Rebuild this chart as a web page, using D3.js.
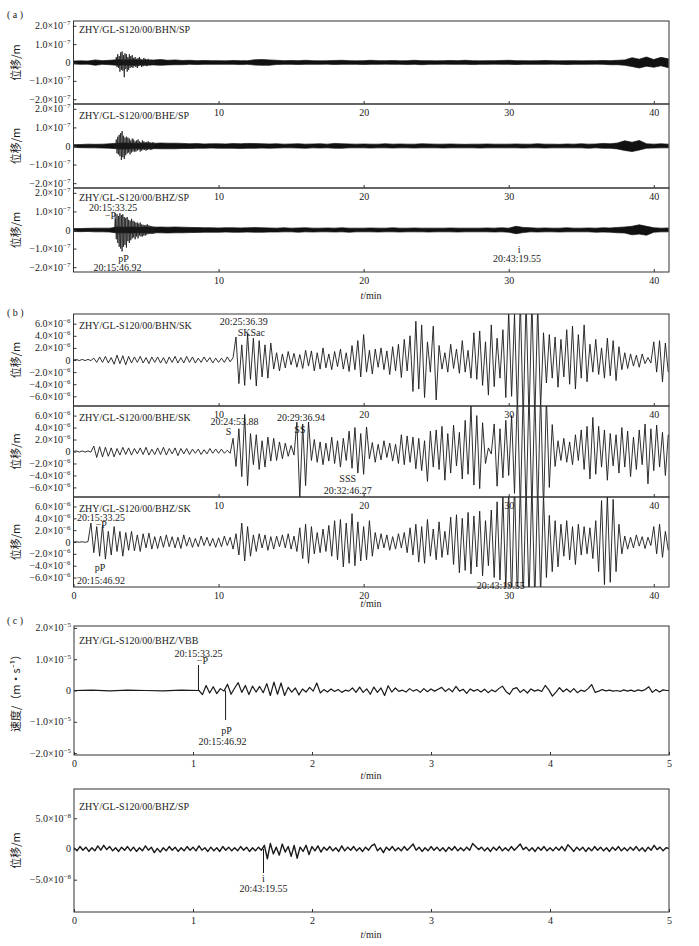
<!DOCTYPE html>
<html>
<head>
<meta charset="utf-8">
<script src="https://cdn.jsdelivr.net/npm/d3@7/dist/d3.min.js"></script>
<style>
  body { margin: 0; background: #fff; }
  text { font-family: "Liberation Serif", "DejaVu Serif", serif; fill: #1a1a1a; }
  .cjk { font-family: "Noto Sans CJK SC", sans-serif; }
</style>
</head>
<body>
<svg id="fig" width="699" height="946"></svg>
<script>
// Seismograms of one event at station ZHY, redrawn from the figure.
// Traces are stored in axis units (the ×10^n factor is in the tick labels).

// ---- tick values ----
const longMinuteTicks = [10, 20, 30, 40];
const longMinuteTicksWithZero = [0, 10, 20, 30, 40];
const shortMinuteTicks = [0, 1, 2, 3, 4, 5];
const spTicks = [2, 1, 0, -1, -2];            // ×10^-7 m
const skTicks = [6, 4, 2, 0, -2, -4, -6];     // ×10^-6 m
const vbbTicks = [2, 1, 0, -1, -2];           // ×10^-5 m/s
const dispTicks = [5, 0, -5];                 // ×10^-8 m

// ---- phase picks (clock time) and window starts ----
const pickNames = ['P', 'pP', 'S', 'SKSac', 'SS', 'SSS', 'i'];
const pickClock = ['20:15:33.25', '20:15:46.92', '20:24:53.88', '20:25:36.39', '20:29:36.94', '20:32:46.27', '20:43:19.55'];
const windowStart = { a: '20:12:41', b: '20:14:17', c: '20:14:30.5', d: '20:41:44' };

// ---- (a) short-period: background band, envelope every 0.5 min (×10^-7) ----
const spStep = 0.5;
const bhnSpHi = [
  0.08, 0.09, 0.08, 0.14, 0.10, 0.12, 0.15, 0.14, 0.15, 0.13,
  0.14, 0.13, 0.16, 0.12, 0.14, 0.11, 0.12, 0.10, 0.11, 0.10,
  0.10, 0.09, 0.11, 0.10, 0.10, 0.15, 0.16, 0.14, 0.12, 0.10,
  0.11, 0.10, 0.12, 0.10, 0.09, 0.10, 0.11, 0.12, 0.10, 0.09,
  0.10, 0.12, 0.10, 0.10, 0.11, 0.09, 0.10, 0.12, 0.10, 0.10,
  0.09, 0.10, 0.11, 0.10, 0.12, 0.10, 0.09, 0.10, 0.10, 0.11,
  0.12, 0.10, 0.10, 0.09, 0.10, 0.11, 0.10, 0.09, 0.10, 0.10,
  0.09, 0.10, 0.10, 0.11, 0.10, 0.12, 0.14, 0.26, 0.18, 0.30,
  0.16, 0.28, 0.20];
const bhnSpLo = [
  -0.08, -0.10, -0.09, -0.15, -0.10, -0.12, -0.15, -0.14, -0.15, -0.14,
  -0.14, -0.13, -0.15, -0.13, -0.12, -0.12, -0.10, -0.11, -0.10, -0.10,
  -0.10, -0.10, -0.10, -0.11, -0.10, -0.14, -0.15, -0.15, -0.11, -0.10,
  -0.10, -0.11, -0.10, -0.10, -0.10, -0.09, -0.11, -0.10, -0.10, -0.10,
  -0.11, -0.10, -0.10, -0.09, -0.10, -0.10, -0.11, -0.10, -0.12, -0.10,
  -0.10, -0.09, -0.10, -0.10, -0.10, -0.11, -0.10, -0.10, -0.09, -0.10,
  -0.10, -0.11, -0.10, -0.10, -0.10, -0.10, -0.09, -0.10, -0.11, -0.10,
  -0.10, -0.10, -0.09, -0.10, -0.12, -0.12, -0.15, -0.22, -0.30, -0.20,
  -0.26, -0.18, -0.28];
const bheSpHi = [
  0.07, 0.08, 0.10, 0.09, 0.10, 0.12, 0.15, 0.16, 0.15, 0.14,
  0.15, 0.14, 0.16, 0.15, 0.15, 0.14, 0.12, 0.13, 0.11, 0.12,
  0.12, 0.11, 0.13, 0.12, 0.14, 0.13, 0.12, 0.11, 0.12, 0.10,
  0.11, 0.12, 0.10, 0.11, 0.12, 0.10, 0.14, 0.12, 0.11, 0.10,
  0.11, 0.10, 0.10, 0.12, 0.10, 0.11, 0.10, 0.10, 0.12, 0.11,
  0.10, 0.10, 0.11, 0.10, 0.09, 0.10, 0.10, 0.11, 0.10, 0.10,
  0.10, 0.11, 0.10, 0.10, 0.12, 0.10, 0.10, 0.09, 0.11, 0.10,
  0.12, 0.10, 0.11, 0.14, 0.12, 0.16, 0.28, 0.20, 0.30, 0.12,
  0.10, 0.12, 0.10];
const bheSpLo = [
  -0.07, -0.09, -0.10, -0.10, -0.11, -0.12, -0.15, -0.16, -0.15, -0.14,
  -0.15, -0.14, -0.15, -0.15, -0.15, -0.13, -0.13, -0.12, -0.12, -0.11,
  -0.12, -0.12, -0.12, -0.13, -0.12, -0.12, -0.11, -0.12, -0.11, -0.10,
  -0.10, -0.11, -0.12, -0.10, -0.11, -0.10, -0.12, -0.12, -0.10, -0.10,
  -0.10, -0.11, -0.10, -0.10, -0.11, -0.10, -0.10, -0.11, -0.10, -0.10,
  -0.10, -0.11, -0.10, -0.10, -0.10, -0.10, -0.11, -0.10, -0.10, -0.10,
  -0.10, -0.10, -0.11, -0.10, -0.10, -0.11, -0.10, -0.10, -0.10, -0.10,
  -0.10, -0.12, -0.10, -0.12, -0.12, -0.16, -0.24, -0.30, -0.22, -0.12,
  -0.11, -0.10, -0.10];
const bhzSpHi = [
  0.08, 0.08, 0.09, 0.10, 0.10, 0.10, 0.16, 0.15, 0.16, 0.15,
  0.16, 0.15, 0.16, 0.15, 0.16, 0.15, 0.14, 0.13, 0.12, 0.12,
  0.11, 0.12, 0.12, 0.11, 0.12, 0.13, 0.12, 0.11, 0.10, 0.12,
  0.10, 0.11, 0.12, 0.10, 0.10, 0.11, 0.10, 0.12, 0.10, 0.10,
  0.10, 0.11, 0.10, 0.10, 0.12, 0.10, 0.10, 0.11, 0.10, 0.10,
  0.10, 0.10, 0.11, 0.10, 0.10, 0.10, 0.10, 0.11, 0.10, 0.12,
  0.10, 0.20, 0.14, 0.12, 0.10, 0.11, 0.10, 0.10, 0.12, 0.10,
  0.10, 0.11, 0.10, 0.12, 0.11, 0.14, 0.16, 0.20, 0.28, 0.20,
  0.12, 0.10, 0.11];
const bhzSpLo = [
  -0.08, -0.09, -0.08, -0.10, -0.10, -0.11, -0.16, -0.15, -0.16, -0.15,
  -0.16, -0.15, -0.15, -0.16, -0.15, -0.15, -0.14, -0.13, -0.12, -0.12,
  -0.12, -0.11, -0.12, -0.12, -0.11, -0.12, -0.12, -0.11, -0.11, -0.10,
  -0.10, -0.12, -0.10, -0.11, -0.10, -0.10, -0.11, -0.10, -0.12, -0.10,
  -0.10, -0.10, -0.11, -0.10, -0.10, -0.11, -0.10, -0.10, -0.10, -0.11,
  -0.10, -0.10, -0.10, -0.11, -0.10, -0.10, -0.10, -0.10, -0.11, -0.10,
  -0.12, -0.20, -0.14, -0.10, -0.11, -0.10, -0.10, -0.11, -0.10, -0.10,
  -0.10, -0.10, -0.12, -0.11, -0.12, -0.15, -0.16, -0.26, -0.22, -0.28,
  -0.12, -0.10, -0.10];

// ---- (a) the P-wave burst, swing every 0.05 min from 2.85 min (×10^-7) ----
const spBurstStart = 2.85, spBurstStep = 0.05;
const bhnSpBurst = [
  0.05, -0.1, 0.3, -0.25, 0.45, -0.3, 0.35, -0.5, 0.55, -0.4,
  0.6, -0.45, 0.4, -0.8, 0.5, -0.35, 0.45, -0.5, 0.3, -0.4,
  0.45, -0.3, 0.35, -0.25, 0.4, -0.3, 0.25, -0.2, 0.3, -0.25,
  0.2, -0.3, 0.25, -0.2, 0.3, -0.15, 0.2, -0.25, 0.15, -0.2,
  0.25, -0.15, 0.2, -0.2, 0.15, -0.18, 0.2, -0.15, 0.12, -0.16,
  0.15, -0.12, 0.14, -0.13, 0.12, -0.12];
const bheSpBurst = [
  0.05, -0.1, 0.35, -0.4, 0.5, -0.45, 0.6, -0.55, 0.7, -0.75,
  0.8, -0.6, 0.55, -0.7, 0.45, -0.5, 0.5, -0.4, 0.45, -0.35,
  0.4, -0.45, 0.3, -0.35, 0.4, -0.3, 0.35, -0.3, 0.25, -0.3,
  0.3, -0.25, 0.35, -0.2, 0.25, -0.3, 0.2, -0.25, 0.3, -0.2,
  0.25, -0.2, 0.2, -0.25, 0.22, -0.2, 0.25, -0.18, 0.2, -0.2,
  0.18, -0.2, 0.2, -0.16, 0.18, -0.15];
const bhzSpBurst = [
  0.1, 0.6, -0.5, 0.85, -0.7, 0.75, -0.9, 0.9, -1.0, 0.8,
  -1.15, 0.85, -0.9, 0.7, -0.8, 0.65, -0.95, 0.7, -0.6, 0.55,
  -0.7, 0.5, -0.55, 0.6, -0.45, 0.5, -0.4, 0.45, -0.5, 0.4,
  -0.35, 0.4, -0.45, 0.35, -0.3, 0.4, -0.35, 0.3, -0.35, 0.28,
  -0.3, 0.25, -0.3, 0.28, -0.25, 0.3, -0.22, 0.25, -0.2, 0.22,
  -0.22, 0.2, -0.2, 0.18, -0.2, 0.18];

// ---- (b) long-period SK traces, swing every 0.2 min (×10^-6) ----
const skStep = 0.2;
const bhnSk = [
  0, 0.1, -0.1, 0.1, -0.1, 0.1, -0.1, 0.3, -0.4, 0.5,
  -0.4, 0.6, -0.5, 0.4, -0.7, 0.8, -0.6, 0.7, -0.8, 0.6,
  -0.5, 0.5, -0.4, 0.6, -0.5, 0.4, -0.6, 0.5, -0.4, 0.5,
  -0.5, 0.4, -0.6, 0.5, -0.4, 0.6, -0.5, 0.4, -0.5, 0.6,
  -0.4, 0.5, -0.5, 0.3, -0.4, 0.5, -0.3, 0.4, -0.5, 0.3,
  -0.4, 0.3, -0.4, 0.5, -0.3, 0.4, 3.8, -3.9, 2.5, -4.2,
  4.3, -3.2, 3.6, -4.3, 3.2, -2.8, 2.5, -3.0, 2.8, -1.5,
  1.2, -1.8, 1.0, -1.3, 1.4, -0.8, 1.1, -1.2, 0.9, -1.4,
  1.6, -1.0, 1.5, -1.8, 1.2, -1.5, 2.0, -1.3, 1.0, -1.6,
  1.4, -1.1, 1.8, -1.5, 1.2, -1.9, 2.4, -1.6, 3.2, -2.8,
  4.2, -2.0, 1.6, -2.3, 1.8, -1.2, 2.0, -1.6, 1.5, -2.4,
  2.2, -1.8, 2.6, -2.9, 3.4, -1.8, 4.0, -5.2, 6.4, -4.8,
  5.8, -6.2, 3.0, -2.0, 5.6, -6.6, 2.4, -1.5, 1.2, -2.0,
  2.6, -1.4, 1.8, -2.2, 3.2, -2.0, 1.6, -3.0, 4.5, -3.2,
  4.8, -4.2, 3.0, -5.8, 5.8, -4.4, 3.6, -3.0, 5.0, -6.2,
  8.0, -6.0, 7.6, -8.5, 10, -10, 10, -10, 10, -10,
  9.0, -8.0, 4.5, -3.8, 4.2, -3.0, 3.8, -4.5, 3.4, -2.8,
  5.0, -4.0, 5.6, -4.8, 4.2, -3.0, 5.8, -3.6, 2.6, -2.0,
  3.4, -2.4, 2.0, -3.0, 3.6, -2.6, 3.2, -3.4, 2.2, -1.6,
  1.2, -1.4, 1.0, -1.0, 0.8, -1.2, 1.0, -0.6, 0.4, -0.5,
  3.0, -2.0, 3.2, -3.6, 2.8, -2.0];
const bheSk = [
  0, 0.1, -0.1, 0.1, -0.1, 0.1, -0.1, 0.9, -1.0, 0.8,
  -0.9, 0.7, -0.8, 0.6, -0.9, 0.5, -0.6, 0.7, -0.5, 0.6,
  -0.6, 0.5, -0.4, 0.6, -0.5, 0.7, -0.6, 0.4, -0.5, 0.6,
  -0.5, 0.7, -0.6, 0.5, -0.4, 0.6, -0.7, 0.5, -0.4, 0.5,
  -0.5, 0.4, -0.3, 0.4, -0.5, 0.3, -0.4, 0.5, -0.3, 0.4,
  -0.3, 0.4, -0.3, 0.2, -0.3, 2.2, -2.5, 3.8, -4.2, 6.2,
  -5.7, 3.0, -2.2, 2.8, -3.0, 1.8, -2.6, 2.4, -1.6, 2.2,
  -1.5, 1.6, -1.2, 1.4, -0.8, 1.0, -0.6, 4.9, -7.9, 4.6,
  -5.7, 4.9, -1.5, 2.0, -1.8, 1.6, -2.2, 1.4, -1.6, 2.4,
  -2.0, 1.8, -2.6, 2.2, -1.5, 3.4, -2.8, 4.0, -3.6, 3.0,
  -3.8, 4.1, -1.2, 1.5, -1.8, 1.2, -1.4, 1.8, -1.0, 1.4,
  -1.6, 1.2, -2.0, 2.8, -2.2, 2.6, -1.8, 2.4, -2.9, 2.2,
  -3.2, 1.8, -5.0, 3.4, -2.6, 3.6, -3.0, 4.2, -4.8, 3.0,
  -3.6, 4.4, -2.4, 3.2, -4.6, 5.2, -3.8, 7.6, -5.6, 6.0,
  -6.2, 4.8, -2.0, 0.6, -0.4, 4.6, -5.8, 3.8, -4.4, 5.2,
  -4.0, 6.0, -7.0, 10, -10, 10, -10, 10, -10, 10,
  -10, 10, -10, 9.0, -6.0, 4.5, -2.5, 1.8, -1.5, 2.2,
  -1.8, 1.6, -2.2, 2.8, -1.5, 3.6, -3.0, 4.2, -4.6, 5.7,
  -3.8, 4.2, -2.6, 3.6, -4.8, 3.0, -2.4, 2.8, -3.6, 4.0,
  -2.6, 3.4, -4.2, 2.4, -3.0, 3.6, -2.2, 4.6, -5.4, 3.8,
  -3.2, 4.4, -2.6, 3.2, -4.0, 2.8];
const bhzSk = [
  0, 0.05, -0.05, 0.05, -0.05, 0.05, 3.2, -1.8, 2.6, -2.4,
  2.8, -2.9, 1.8, -2.2, 2.6, -1.6, 1.8, -2.4, 1.6, -1.4,
  1.8, -1.5, 1.2, -1.6, 1.4, -1.0, 1.5, -1.2, 0.9, -1.1,
  1.0, -0.9, 1.2, -0.8, 0.9, -1.0, 0.8, -1.1, 1.2, -0.7,
  0.8, -0.9, 0.6, -0.8, 1.0, -0.6, 0.8, -0.7, 0.6, -0.9,
  0.7, -0.8, 1.0, -0.6, 0.8, -1.2, 1.4, -2.2, 3.2, -3.2,
  2.6, -2.4, 1.2, -1.6, 1.4, -1.0, 1.2, -1.4, 0.9, -1.2,
  1.0, -0.8, 1.2, -1.0, 1.4, -1.2, 1.0, -1.6, 2.4, -2.8,
  3.0, -3.6, 2.6, -2.0, 1.6, -1.8, 2.2, -1.6, 2.8, -2.4,
  3.6, -3.0, 3.8, -4.2, 3.2, -3.6, 4.8, -4.0, 3.4, -3.2,
  2.6, -3.0, 3.6, -2.4, 1.6, -1.2, 1.4, -1.0, 1.2, -1.4,
  0.9, -1.2, 1.4, -1.0, 1.6, -1.8, 2.4, -2.2, 3.0, -3.4,
  2.6, -3.6, 3.8, -2.4, 2.2, -3.0, 3.4, -2.6, 1.8, -2.2,
  4.2, -3.8, 4.6, -5.2, 4.0, -4.8, 5.0, -5.4, 4.4, -4.2,
  5.2, -5.7, 3.6, -4.0, 5.4, -6.0, 6.8, -6.4, 7.8, -8.0,
  9.0, -10, 10, -10, 10, -10, 10, -10, 10, -10,
  10, -9.0, 8.0, -6.0, 4.5, -5.0, 3.6, -4.2, 3.0, -2.4,
  3.6, -3.0, 2.6, -3.8, 3.0, -2.2, 2.6, -2.0, 2.4, -2.8,
  3.6, -5.0, 7.0, -7.2, 8.0, -6.8, 7.2, -5.0, 3.0, -2.0,
  1.0, -1.2, 0.8, -1.0, 1.2, -0.7, 0.9, -1.1, 0.8, -0.6,
  2.6, -2.0, 3.0, -2.6, 1.8, -1.4];

// ---- (c) VBB velocity (×10^-5 m/s): quiet part every 0.15 min, then every 0.03 min from 1.05 ----
const vbbQuietStep = 0.15;
const vbbQuiet = [0, 0.01, -0.01, 0.01, 0, -0.01, 0.01];
const vbbStart = 1.05, vbbStep = 0.03;
const vbbValues = [
  0.0, -0.13, 0.16, -0.08, 0.12, -0.1, 0.06, -0.02, 0.2, -0.12,
  0.08, 0.25, -0.06, 0.16, -0.13, 0.14, -0.05, 0.13, -0.07, 0.22,
  -0.16, 0.27, -0.12, 0.24, -0.16, 0.1, -0.05, 0.08, -0.14, 0.05,
  -0.05, 0.1, -0.02, 0.24, -0.08, 0.03, -0.05, 0.05, -0.03, 0.03,
  -0.06, 0.01, -0.02, 0.08, -0.06, 0.11, -0.06, 0.05, -0.12, 0.11,
  -0.06, 0.08, -0.16, 0.15, -0.05, 0.08, -0.03, 0.01, -0.05, 0.06,
  -0.02, 0.03, -0.06, 0.06, -0.04, 0.05, -0.02, 0.04, 0.1, -0.03,
  0.06, -0.04, 0.13, -0.02, 0.04, -0.09, 0.05, -0.02, 0.03, -0.05,
  0.04, -0.07, 0.02, -0.04, 0.06, 0.14, -0.03, -0.12, 0.05, 0.09,
  -0.06, 0.03, -0.08, 0.05, -0.02, 0.02, -0.03, 0.16, 0.02, -0.18,
  -0.05, 0.09, -0.04, 0.05, -0.05, 0.06, -0.07, 0.01, -0.03, 0.06,
  0.19, -0.06, -0.02, 0.03, -0.01, 0.01, -0.02, 0.0, -0.03, 0.02,
  -0.02, 0.01, -0.03, 0.02, -0.01, 0.03, 0.12, -0.06, 0.03, -0.05,
  0.02, 0.0, 0.0];

// ---- (c) lower: SP displacement every 0.025 min (×10^-8 m) ----
const dispStep = 0.025;
const dispValues = [
  0.2, -0.3, 0.4, -0.2, 0.3, -0.4, 0.2, -0.3, 0.5, -0.2, 0.6, -0.1, 0.4, -0.3, 0.2, -0.4, 0.3, -0.2, 0.4, -0.3,
  0.3, -0.4, 0.2, -0.3, 0.5, -0.2, 0.3, -0.6, 0.1, -0.5, 0.2, -0.3, 0.4, -0.2, 0.3, -0.4, 0.2, -0.3, 0.4, -0.2,
  0.3, -0.3, 0.5, -0.2, 0.2, -0.4, 0.3, -0.3, 0.2, -0.4, 0.4, -0.2, 0.3, -0.3, 0.2, -0.3, 0.4, -0.2, 0.3, -0.4,
  0.2, -0.3, 0.3, -0.2, 0.6, -1.6, 0.9, -0.8, 0.3, -1.0, 0.8, -0.5, 0.4, -1.2, 0.6, -1.5, 0.3, -0.4, 0.6, -0.9,
  0.4, -0.3, 0.5, -0.5, 0.3, -0.2, 0.4, -0.3, 0.2, -0.4, 0.5, -0.3, 0.3, -0.2, 0.4, -0.3, 0.2, -0.4, 0.3, -0.2,
  0.5, 0.8, -0.3, 0.2, -0.6, 0.3, -0.2, 0.4, -0.3, 0.2, -0.3, 0.4, -0.2, 0.3, 0.8, -0.2, 0.3, -0.4, 0.2, -0.3,
  0.4, -0.2, 0.3, -0.3, 0.2, -0.4, 0.3, -0.2, 0.4, -0.3, 0.2, -0.3, 0.3, -0.2, 0.9, 0.4, -0.1, 0.3, -0.3, 0.2,
  -0.4, 0.3, -0.2, 0.4, -0.3, 0.2, -0.3, 0.4, -0.2, 0.3, 0.8, -0.1, 0.3, -0.3, 0.2, -0.4, 0.3, -0.2, 0.4, -0.3,
  0.2, -0.3, 0.3, -0.2, 0.4, -0.3, 0.7, 0.2, -0.4, 0.3, -0.2, 0.3, -0.4, 0.2, -0.3, 0.4, -0.2, 0.3, -0.3, 0.2,
  -0.4, 0.3, -0.2, 0.4, -0.3, 0.2, -0.3, 0.3, -0.2, 0.4, -0.3, 0.2, -0.4, 0.3, -0.2, 0.6, -0.1, 0.3, -0.3, 0.2,
  0.1];

// ---------------------------------------------------------------
const svg = d3.select('#fig');
const X0 = 73.5, X1 = 669;
const xLong = d3.scaleLinear().domain([0, 41.05]).range([X0, X1]);
const xShort = d3.scaleLinear().domain([0, 5]).range([74, X1]);

function clockSeconds(s) {
    const p = s.split(':').map(Number);
    return p[0] * 3600 + p[1] * 60 + p[2];
}
function pickMinute(name, panel) {
    return (clockSeconds(pickClock[pickNames.indexOf(name)]) - clockSeconds(windowStart[panel])) / 60;
}
function mantissa(v) {
    return (v < 0 ? '\u2212' : '') + Math.abs(v).toFixed(1);
}

let clipCount = 0;
function drawFrame(p) {
    const x = p.x;
    const y = d3.scaleLinear().domain(p.yDomain).range([p.bottom, p.top]);
    const id = 'clip' + (clipCount++);
    svg.append('clipPath').attr('id', id).append('rect')
        .attr('x', x.range()[0]).attr('y', p.top)
        .attr('width', x.range()[1] - x.range()[0]).attr('height', p.bottom - p.top);
    const plot = svg.append('g').attr('clip-path', 'url(#' + id + ')');

    // y ticks, pointing inward
    const ya = svg.append('g').attr('transform', 'translate(' + x.range()[0] + ',0)')
        .call(d3.axisLeft(y).tickValues(p.yTicks).tickSize(-3).tickFormat(''));
    ya.select('.domain').remove();
    ya.selectAll('.tick line').attr('stroke', '#333');
    p.yTicks.forEach(function(v) {
        const t = svg.append('text')
            .attr('x', x.range()[0] - 3).attr('y', y(v)).attr('dy', '0.35em')
            .attr('text-anchor', 'end').attr('font-size', 10);
        if (v === 0) { t.text('0'); return; }
        t.append('tspan').text(mantissa(v) + '\u00d710');
        t.append('tspan').attr('dy', -4).attr('font-size', 7).text('\u2212' + p.exp);
    });

    // x ticks at the bottom edge, pointing up
    const xa = svg.append('g').attr('transform', 'translate(0,' + p.bottom + ')')
        .call(d3.axisBottom(x).tickValues(p.xTicks).tickSize(-3).tickPadding(5).tickFormat(d3.format('d')));
    xa.select('.domain').remove();
    xa.selectAll('.tick line').attr('stroke', '#333');
    xa.selectAll('text').attr('font-size', 10);

    svg.append('rect')
        .attr('x', x.range()[0]).attr('y', p.top)
        .attr('width', x.range()[1] - x.range()[0]).attr('height', p.bottom - p.top)
        .attr('fill', 'none').attr('stroke', '#333').attr('stroke-width', 1);

    svg.append('text').attr('x', 79).attr('y', p.top + p.titleDy)
        .attr('font-size', 10).text(p.title);

    svg.append('text').attr('class', 'cjk')
        .attr('transform', 'translate(20,' + (p.top + p.bottom) / 2 + ') rotate(-90)')
        .attr('text-anchor', 'middle').attr('font-size', 11).text(p.yTitle);

    return { plot: plot, y: y, x: x };
}

function drawEnvelope(f, hi, lo, step) {
    const area = d3.area()
        .x((d, i) => f.x(i * step))
        .y0((d, i) => f.y(lo[i]))
        .y1(d => f.y(d));
    f.plot.append('path').attr('d', area(hi))
        .attr('fill', '#111').attr('stroke', '#111').attr('stroke-width', 0.7);
}

function drawTrace(f, points, width) {
    const line = d3.line().x(d => f.x(d[0])).y(d => f.y(d[1]));
    f.plot.append('path').attr('d', line(points))
        .attr('fill', 'none').attr('stroke', '#1a1a1a')
        .attr('stroke-width', width).attr('stroke-linejoin', 'round');
}

function sampled(values, start, step) {
    return values.map((v, i) => [start + i * step, v]);
}

function note(x, y, str, anchor) {
    svg.append('text').attr('x', x).attr('y', y)
        .attr('text-anchor', anchor || 'middle').attr('font-size', 10).text(str);
}

function marker(x, y1, y2) {
    svg.append('line').attr('x1', x).attr('x2', x).attr('y1', y1).attr('y2', y2)
        .attr('stroke', '#1a1a1a').attr('stroke-width', 1);
}

function timeLabel(y) {
    const t = svg.append('text').attr('x', 371).attr('y', y)
        .attr('text-anchor', 'middle').attr('font-size', 10);
    t.append('tspan').attr('font-style', 'italic').text('t');
    t.append('tspan').text('/min');
}

function panelTag(y, letter) {
    svg.append('text').attr('x', 7).attr('y', y).attr('font-size', 10).text('( ' + letter + ' )');
}

const DISP = '\u4f4d\u79fb/m';

// ---- (a) ----
panelTag(18, 'a');
const spTitles = ['ZHY/GL-S120/00/BHN/SP', 'ZHY/GL-S120/00/BHE/SP', 'ZHY/GL-S120/00/BHZ/SP'];
const spEnv = [[bhnSpHi, bhnSpLo], [bheSpHi, bheSpLo], [bhzSpHi, bhzSpLo]];
const spBursts = [bhnSpBurst, bheSpBurst, bhzSpBurst];
const aTops = [21, 104, 188, 272];
const aTitleDy = [12, 15, 12.5];
spEnv.forEach(function(env, k) {
    const f = drawFrame({ x: xLong, top: aTops[k], bottom: aTops[k + 1], yDomain: [-2.26, 2.26],
        yTicks: spTicks, exp: 7, xTicks: longMinuteTicks, title: spTitles[k], titleDy: aTitleDy[k], yTitle: DISP });
    drawEnvelope(f, env[0], env[1], spStep);
    drawTrace(f, sampled(spBursts[k], spBurstStart, spBurstStep), 0.8);
});
timeLabel(299);
{
    const xp = xLong(pickMinute('P', 'a'));
    const xpp = xLong(pickMinute('pP', 'a'));
    const xi = xLong(pickMinute('i', 'a'));
    marker(xp, 213, 227);
    note(xp - 2, 211, pickClock[0]);
    note(xp + 1, 219, '\u2212P', 'end');
    note(xpp + 5, 262, 'pP');
    note(xpp - 1, 271, pickClock[1]);
    note(xi + 1, 253, 'i');
    note(xi - 1, 262, pickClock[6]);
}

// ---- (b) ----
panelTag(316, 'b');
const skTitles = ['ZHY/GL-S120/00/BHN/SK', 'ZHY/GL-S120/00/BHE/SK', 'ZHY/GL-S120/00/BHZ/SK'];
const skData = [bhnSk, bheSk, bhzSk];
const bTops = [314, 406, 497, 587];
skData.forEach(function(vals, k) {
    const f = drawFrame({ x: xLong, top: bTops[k], bottom: bTops[k + 1], yDomain: [-7.6, 7.6],
        yTicks: skTicks, exp: 6, xTicks: k === 2 ? longMinuteTicksWithZero : longMinuteTicks,
        title: skTitles[k], titleDy: 15, yTitle: DISP });
    drawTrace(f, sampled(vals, 0, skStep), 0.9);
});
timeLabel(607);
{
    const xs = xLong(pickMinute('SKSac', 'b'));
    note(xs + 6, 325, pickClock[3]);
    note(xs, 336, 'SKSac', 'start');
    const xS = xLong(pickMinute('S', 'b'));
    note(xS + 7, 425, pickClock[2]);
    note(xS + 1, 435, 'S');
    const xSS = xLong(pickMinute('SS', 'b'));
    note(xSS + 5, 421, pickClock[4]);
    note(xSS + 4, 433, 'SS');
    const xSSS = xLong(pickMinute('SSS', 'b'));
    note(xSSS + 6, 482, 'SSS');
    note(xSSS + 6, 494, pickClock[5]);
    const xP = xLong(pickMinute('P', 'b'));
    note(77, 521, pickClock[0], 'start');
    note(xP + 15, 528, '\u2212P', 'end');
    note(xP + 8, 571, 'pP');
    note(77, 584, pickClock[1], 'start');
    const xi = xLong(pickMinute('i', 'b'));
    note(xi + 6, 589, pickClock[6]);
}

// ---- (c) VBB ----
panelTag(624, 'c');
{
    const f = drawFrame({ x: xShort, top: 626, bottom: 755, yDomain: [-2.06, 2.06],
        yTicks: vbbTicks, exp: 5, xTicks: shortMinuteTicks,
        title: 'ZHY/GL-S120/00/BHZ/VBB', titleDy: 18, yTitle: '\u901f\u5ea6/\uff08m\u00b7s\u207b\u00b9\uff09' });
    const pts = sampled(vbbQuiet, 0, vbbQuietStep).concat(sampled(vbbValues, vbbStart, vbbStep));
    drawTrace(f, pts, 1.2);
    const xp = xShort(pickMinute('P', 'c'));
    const xpp = xShort(pickMinute('pP', 'c'));
    marker(xp, 665, f.y(0));
    marker(xpp, f.y(0), 720);
    note(xp, 657, pickClock[0]);
    note(xp + 4, 664, '\u2212P');
    note(xpp + 1, 734, 'pP');
    note(xpp - 3, 745, pickClock[1]);
}
timeLabel(779);

// ---- (c) SP displacement ----
{
    const f = drawFrame({ x: xShort, top: 789, bottom: 912, yDomain: [-10.26, 9.77],
        yTicks: dispTicks, exp: 8, xTicks: shortMinuteTicks,
        title: 'ZHY/GL-S120/00/BHZ/SP', titleDy: 21, yTitle: DISP });
    drawTrace(f, sampled(dispValues, 0, dispStep), 1.4);
    const xi = xShort(pickMinute('i', 'd'));
    marker(xi, f.y(0), 873);
    note(xi, 882, 'i');
    note(xi, 892, pickClock[6]);
}
timeLabel(938);
</script>
</body>
</html>
